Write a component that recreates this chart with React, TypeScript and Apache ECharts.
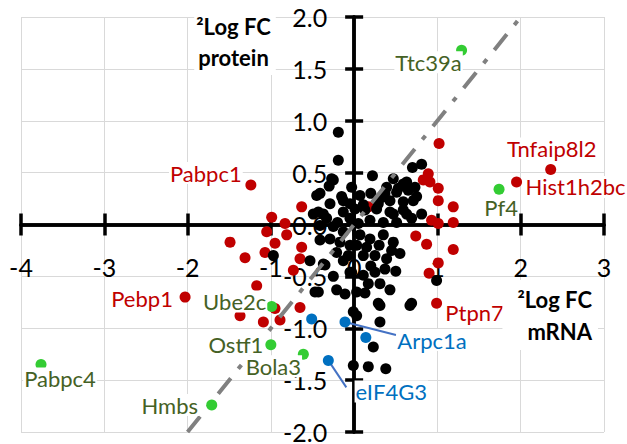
import React, { useEffect, useRef } from "react";
import * as echarts from "echarts";

// ---- data (log2 fold change: [mRNA, protein]) ----
const xTickValues = [-4, -3, -2, -1, 0, 1, 2, 3];
const yTickValues = [-2, -1.5, -1, -0.5, 0, 0.5, 1, 1.5, 2];

const blackPoints: [number, number][] = [
  [-0.19, 0.89], [-0.19, 0.62], [-0.27, 0.44], [-0.30, 0.37], [-0.45, 0.28], [-0.29, 0.20],
  [-0.15, 0.27], [-0.03, 0.36], [-0.49, 0.10], [-0.41, 0.30], [-0.37, 0.10], [-0.13, 0.23],
  [-0.25, 0.43], [0.22, 0.47], [0.70, 0.55], [0.81, 0.58], [0.47, 0.44], [0.59, 0.39],
  [0.39, 0.36], [0.51, 0.31], [0.65, 0.33], [0.73, 0.36], [0.43, 0.23], [0.59, 0.22],
  [0.75, 0.27], [0.07, 0.28], [0.29, 0.20], [0.11, 0.19], [0.63, 0.41], [0.37, 0.30],
  [0.71, 0.23], [0.53, 0.35], [0.20, 0.30], [0.33, 0.26], [-0.05, 0.20],
  [0.01, 0.15], [0.13, 0.14], [0.27, 0.15], [0.43, 0.12], [0.59, 0.14], [0.69, 0.06],
  [0.51, 0.02], [0.35, 0.02], [0.19, 0.04], [0.05, 0.01], [0.07, -0.10], [0.19, -0.14],
  [0.35, -0.10], [0.47, -0.17], [0.55, -0.28], [0.39, -0.33], [0.25, -0.30], [0.11, -0.30],
  [0.03, -0.20], [-0.03, -0.46], [0.11, -0.49], [0.25, -0.46], [0.37, -0.43], [0.31, -0.57],
  [0.17, -0.57], [0.03, -0.65], [0.13, -0.66], [0.43, -0.63], [0.29, -0.76], [0.69, -0.76],
  [0.81, 0.10], [0.99, -0.54], [0.47, 0.10], [0.63, 0.10], [0.15, -0.22], [0.45, -0.25],
  [0.30, -0.20], [0.50, -0.45], [0.20, -0.40],
  [-0.43, 0.12], [-0.33, 0.06], [-0.41, -0.01], [-0.25, -0.02], [-0.13, -0.07], [-0.13, 0.12],
  [-0.05, 0.06], [-0.29, -0.14], [-0.17, -0.17], [-0.05, -0.20], [-0.53, -0.35], [-0.35, -0.39],
  [-0.21, -0.27], [-0.07, -0.30], [-0.05, -0.46], [-0.43, -0.65], [-0.21, -0.63], [-0.11, -0.67],
  [-0.97, -0.30], [-0.41, -0.15], [-0.37, -0.38], [-0.13, -0.35], [-0.47, -0.65], [-0.20, 0.02],
  [-0.25, -0.50],
  [0.03, -0.88], [0.31, -0.78], [0.67, -0.78], [0.31, -0.94], [0.23, -1.18], [-0.01, -1.36],
  [0.17, -1.37], [0.38, -1.39], [-0.01, -0.84],
];

const redPoints: [number, number][] = [
  [-0.63, 0.17], [-0.99, 0.07], [-0.83, 0.01], [-1.05, -0.07], [-0.81, -0.10], [-0.95, -0.18],
  [-1.07, -0.27], [-0.63, -0.22], [-0.65, -0.33], [-0.73, -0.44], [-1.49, -0.17], [-1.31, -0.32],
  [-1.17, -0.59], [-1.37, -0.88], [-1.09, -0.94], [-0.89, -0.92], [-0.65, -0.80], [-0.95, -0.81],
  [1.02, 0.78], [0.89, 0.49], [0.83, 0.43], [0.91, 0.41], [1.01, 0.35], [1.01, 0.23],
  [1.19, 0.17], [0.93, 0.04], [1.01, 0.01], [1.19, 0.02], [0.74, -0.11], [0.87, -0.19],
  [1.19, -0.24], [1.01, -0.37], [0.90, -0.47], [0.17, 0.17],
];

const bluePoints: [number, number][] = [
  [0.14, -1.09], [-0.51, -0.91],
];

// labelled genes: [name, mRNA, protein]
const redGenes: [string, number, number][] = [
  ["Tnfaip8l2", 2.36, 0.53],
  ["Hist1h2bc", 1.95, 0.41],
  ["Pabpc1", -1.24, 0.38],
  ["Pebp1", -2.03, -0.70],
  ["Ptpn7", 0.99, -0.76],
];
const greenGenes: [string, number, number][] = [
  ["Ttc39a", 1.29, 1.68],
  ["Pf4", 1.74, 0.34],
  ["Ube2c", -0.99, -0.79],
  ["Ostf1", -1.0, -1.16],
  ["Bola3", -0.61, -1.25],
  ["Pabpc4", -3.76, -1.35],
  ["Hmbs", -1.71, -1.74],
];
const blueGenes: [string, number, number][] = [
  ["Arpc1a", -0.11, -0.94],
  ["eIF4G3", -0.31, -1.31],
];

const identityLine: [number, number][] = [[-2, -2], [2, 2]];

// ---- styling ----
const FONT = "Lato";
const RED = "#c00000";
const GREEN = "#33cc33";
const GREEN_TEXT = "#456125";
const BLUE = "#0070c0";
const labelOffsets: Record<string, [number, number]> = {
  Tnfaip8l2: [1, -21],
  Hist1h2bc: [59, 5],
  Pabpc1: [-45, -12],
  Pebp1: [-43, 1],
  Ptpn7: [38, 9],
  Ttc39a: [-33, 12],
  Pf4: [2, 18],
  Ube2c: [-37, -5],
  Ostf1: [-35, 0],
  Bola3: [-30, 12],
  Pabpc4: [19, 14],
  Hmbs: [-42, 0],
  Arpc1a: [87, 18],
  eIF4G3: [63, 31],
};
// leader line end, relative to the point (pixels)
const leaderEnds: Record<string, [number, number]> = {
  Arpc1a: [51, 13],
  eIF4G3: [18, 27],
};

function geneItems(genes: [string, number, number][], textColor: string) {
  return genes.map(([name, x, y]) => ({
    name,
    value: [x, y],
    label: {
      show: true,
      position: "inside",
      offset: labelOffsets[name],
      formatter: name,
      color: textColor,
      fontFamily: FONT,
      fontSize: 22,
      backgroundColor: "#fff",
      padding: [0, 1],
    },
  }));
}

// grid geometry
const GRID = { left: 21, top: 17, width: 583, height: 415 };
const X_MIN = -4, X_MAX = 3, Y_MIN = -2, Y_MAX = 2;
const zeroFromLeft = ((0 - X_MIN) / (X_MAX - X_MIN)) * GRID.width;
const zeroFromTop = ((Y_MAX - 0) / (Y_MAX - Y_MIN)) * GRID.height;

const axisLineStyle = { color: "#000", width: 3.5 };
const SYM = 11;

const xBase = { type: "value", min: X_MIN, max: X_MAX, interval: 1 };
const yBase = { type: "value", min: Y_MIN, max: Y_MAX, interval: 0.5 };

const option: any = {
  animation: false,
  backgroundColor: "#fff",
  grid: {
    left: GRID.left,
    top: GRID.top,
    width: GRID.width,
    height: GRID.height,
    containLabel: false,
    outerBoundsMode: "none",
  },
  xAxis: [
    {
      ...xBase,
      position: "bottom",
      offset: -(GRID.height - zeroFromTop),
      axisLine: { onZero: false, lineStyle: axisLineStyle },
      axisTick: { show: true, inside: false, length: 11, lineStyle: axisLineStyle },
      axisLabel: {
        margin: 30,
        fontFamily: FONT,
        fontSize: 25,
        color: "#000",
        hideOverlap: false,
        formatter: (v: number) => (xTickValues.includes(v) ? String(v) : ""),
      },
      splitLine: { show: true, lineStyle: { color: "#d9d9d9", width: 1 } },
    },
    {
      ...xBase,
      position: "top",
      offset: -zeroFromTop,
      axisLine: { onZero: false, lineStyle: axisLineStyle },
      axisTick: { show: true, inside: false, length: 11, lineStyle: axisLineStyle },
      axisLabel: { show: false },
      splitLine: { show: false },
    },
  ],
  yAxis: [
    {
      ...yBase,
      position: "left",
      offset: -zeroFromLeft,
      axisLine: { onZero: false, lineStyle: axisLineStyle },
      axisTick: { show: true, inside: false, length: 9, lineStyle: axisLineStyle },
      axisLabel: {
        margin: 27,
        fontFamily: FONT,
        fontSize: 25,
        color: "#000",
        hideOverlap: false,
        formatter: (v: number) => (yTickValues.includes(v) ? v.toFixed(1) : ""),
      },
      splitLine: { show: true, lineStyle: { color: "#d9d9d9", width: 1 } },
    },
    {
      ...yBase,
      position: "right",
      offset: -(GRID.width - zeroFromLeft),
      axisLine: { onZero: false, lineStyle: axisLineStyle },
      axisTick: { show: true, inside: false, length: 9, lineStyle: axisLineStyle },
      axisLabel: { show: false },
      splitLine: { show: false },
    },
  ],
  series: [
    {
      type: "scatter",
      symbolSize: SYM,
      itemStyle: { color: RED, opacity: 1 },
      data: [...redPoints, ...geneItems(redGenes, RED)],
      z: 2,
    },
    {
      type: "scatter",
      symbolSize: SYM,
      itemStyle: { color: "#000", opacity: 1 },
      data: blackPoints,
      z: 2,
    },
    {
      type: "custom",
      silent: true,
      z: 2,
      data: blueGenes.map(([name, x, y]) => [x, y, name]),
      renderItem: (params: any, api: any) => {
        const p = api.coord([api.value(0), api.value(1)]);
        const name = blueGenes[params.dataIndex][0];
        const d = leaderEnds[name];
        return {
          type: "line",
          shape: { x1: p[0], y1: p[1], x2: p[0] + d[0], y2: p[1] + d[1] },
          style: { stroke: "#4472c4", lineWidth: 2 },
        };
      },
    },
    {
      type: "scatter",
      symbolSize: SYM,
      itemStyle: { color: BLUE, opacity: 1 },
      data: [...bluePoints, ...geneItems(blueGenes, BLUE)],
      z: 2,
    },
    {
      type: "line",
      data: identityLine,
      symbol: "none",
      silent: true,
      lineStyle: { color: "#808080", width: 4, type: [20, 12, 5, 12], cap: "butt" },
      z: 3,
    },
    {
      type: "scatter",
      symbolSize: SYM,
      itemStyle: { color: GREEN, opacity: 1 },
      data: geneItems(greenGenes, GREEN_TEXT),
      z: 4,
    },
  ],
  graphic: [
    {
      type: "text",
      x: 235,
      y: 9,
      z: 10,
      style: {
        text: "²Log FC\nprotein",
        textAlign: "center",
        textVerticalAlign: "top",
        fontFamily: FONT,
        fontWeight: "bold",
        fontSize: 22,
        lineHeight: 31,
        fill: "#000",
        backgroundColor: "#fff",
        padding: [2, 5, 2, 2],
      },
    },
    {
      type: "text",
      x: 598,
      y: 280,
      z: 10,
      style: {
        text: "²Log FC\nmRNA",
        textAlign: "right",
        textVerticalAlign: "top",
        fontFamily: FONT,
        fontWeight: "bold",
        fontSize: 22,
        lineHeight: 32,
        fill: "#000",
        backgroundColor: "#fff",
        padding: [3, 6, 3, 15],
      },
    },
  ],
};

export default function App() {
  const ref = useRef<HTMLDivElement>(null);
  useEffect(() => {
    const chart = echarts.init(ref.current!, null, { renderer: "svg" });
    chart.setOption(option);
    return () => chart.dispose();
  }, []);
  return (
    <div
      ref={ref}
      style={{ position: "fixed", left: 0, top: 0, width: 627, height: 444, background: "#fff" }}
    />
  );
}
